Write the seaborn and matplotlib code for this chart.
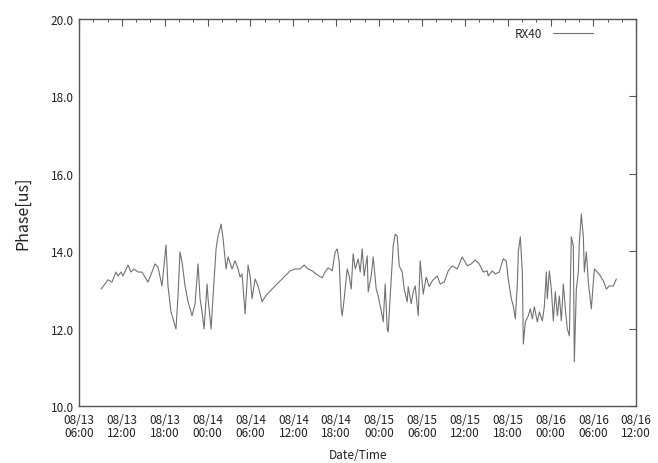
import numpy as np
import pandas as pd
import matplotlib
matplotlib.use("Agg")
import matplotlib.pyplot as plt
import matplotlib.dates as mdates
import seaborn as sns

sns.set_theme(style="white")
plt.rcParams['font.family'] = ['Noto Sans CJK JP', 'DejaVu Sans']

# hours after 08/13 06:00, phase in microseconds
start_time = "2013-08-13 06:00"
hours = [
    3.08, 3.64, 4.06, 4.62, 5.18, 5.46, 5.88, 6.16, 6.86, 7.28,
    7.70, 8.26, 8.82, 9.24, 9.66, 10.22, 10.64, 11.06, 11.62, 11.90,
    12.18, 12.46, 12.88, 13.16, 13.58, 13.86, 14.14, 14.42, 14.85, 15.27,
    15.55, 15.83, 16.25, 16.67, 16.95, 17.23, 17.51, 17.93, 18.07, 18.49,
    18.77, 19.19, 19.47, 19.89, 20.17, 20.59, 20.87, 21.43, 21.85, 22.27,
    22.55, 22.83, 23.25, 23.67, 23.95, 24.23, 24.65, 25.07, 25.63, 26.05,
    26.75, 27.45, 28.15, 28.85, 29.55, 30.25, 30.95, 31.51, 32.07, 32.63,
    33.33, 34.03, 34.45, 34.87, 35.44, 35.86, 36.14, 36.42, 36.70, 36.84,
    37.12, 37.54, 37.82, 38.10, 38.38, 38.66, 39.08, 39.36, 39.64, 39.92,
    40.34, 40.48, 40.90, 41.18, 41.60, 41.88, 42.16, 42.44, 42.58, 42.86,
    43.14, 43.28, 43.56, 43.84, 43.98, 44.26, 44.54, 44.82, 45.24, 45.52,
    45.94, 46.08, 46.50, 46.78, 47.06, 47.48, 47.76, 48.18, 48.60, 49.02,
    49.44, 50.14, 50.56, 51.12, 51.68, 52.24, 52.94, 53.64, 54.34, 54.90,
    55.46, 56.02, 56.58, 57.14, 57.28, 57.84, 58.26, 58.82, 59.38, 59.80,
    60.08, 60.51, 60.79, 61.07, 61.35, 61.49, 61.77, 62.05, 62.19, 62.47,
    62.89, 63.17, 63.45, 63.73, 64.15, 64.43, 64.85, 65.13, 65.41, 65.55,
    65.83, 66.11, 66.39, 66.67, 66.95, 67.23, 67.51, 67.79, 68.07, 68.35,
    68.63, 68.91, 69.19, 69.33, 69.61, 69.89, 70.03, 70.31, 70.59, 70.73,
    71.01, 71.29, 71.71, 72.13, 72.55, 72.97, 73.39, 73.81, 74.23, 74.79,
    75.21,
]
phase = [
    13.02, 13.15, 13.26, 13.20, 13.46, 13.36, 13.46, 13.36, 13.64, 13.46,
    13.54, 13.46, 13.46, 13.33, 13.20, 13.46, 13.67, 13.59, 13.10, 13.62,
    14.16, 13.10, 12.43, 12.25, 11.99, 12.84, 13.98, 13.72, 13.10, 12.69,
    12.51, 12.33, 12.64, 13.67, 12.77, 12.43, 11.99, 13.15, 12.77, 11.99,
    12.84, 14.06, 14.39, 14.70, 14.32, 13.54, 13.85, 13.54, 13.75, 13.54,
    13.33, 13.41, 12.38, 13.64, 13.36, 12.77, 13.28, 13.10, 12.69, 12.82,
    12.97, 13.10, 13.23, 13.36, 13.49, 13.54, 13.54, 13.64, 13.54, 13.49,
    13.39, 13.31, 13.46, 13.57, 13.49, 13.98, 14.06, 13.72, 12.51, 12.33,
    12.77, 13.54, 13.36, 13.02, 13.93, 13.54, 13.80, 13.46, 14.06, 13.36,
    13.88, 12.95, 13.36, 13.85, 13.02, 12.84, 12.58, 12.33, 12.17, 13.15,
    11.99, 11.91, 12.84, 13.67, 14.13, 14.44, 14.39, 13.62, 13.46, 13.02,
    12.69, 13.08, 12.64, 12.95, 13.10, 12.33, 13.75, 12.89, 13.33, 13.08,
    13.23, 13.36, 13.15, 13.20, 13.49, 13.62, 13.54, 13.85, 13.62, 13.67,
    13.77, 13.67, 13.46, 13.49, 13.36, 13.49, 13.41, 13.46, 13.80, 13.75,
    13.28, 12.77, 12.58, 12.25, 13.15, 13.98, 14.37, 13.46, 11.60, 12.17,
    12.33, 12.51, 12.25, 12.56, 12.17, 12.43, 12.20, 12.56, 13.46, 12.77,
    13.49, 13.02, 12.20, 12.95, 12.33, 12.84, 12.20, 13.15, 12.51, 11.99,
    11.81, 14.37, 14.13, 11.14, 13.02, 13.46, 14.24, 14.96, 14.37, 13.46,
    13.98, 13.20, 12.51, 13.54, 13.46, 13.36, 13.23, 13.02, 13.10, 13.10,
    13.28,
]

t0 = pd.Timestamp(start_time)
df = pd.DataFrame({
    "time": t0 + pd.to_timedelta(hours, unit="h"),
    "phase": phase,
})

fig = plt.figure(figsize=(6.58, 4.64), dpi=100)
ax = fig.add_axes([0.120, 0.123, 0.847, 0.834])

sns.lineplot(data=df, x="time", y="phase", ax=ax, color="#727272",
             lw=0.8, estimator=None, sort=False, label="RX40")

ax.set_xlim(t0, t0 + pd.Timedelta(hours=78))
ax.set_ylim(10, 20)
ax.set_yticks(np.arange(10, 20.1, 2))
ax.yaxis.set_major_formatter(plt.FormatStrFormatter("%.1f"))

ax.xaxis.set_major_locator(mdates.HourLocator(byhour=[0, 6, 12, 18]))
ax.xaxis.set_minor_locator(mdates.HourLocator(byhour=range(0, 24, 2)))
ax.xaxis.set_major_formatter(mdates.DateFormatter("%m/%d\n%H:%M"))

ax.tick_params(which="major", direction="in", top=True, right=True,
               length=5, width=0.8, color="#555555", labelsize=8.5,
               labelcolor="#222222")
ax.tick_params(axis="x", which="major", pad=5)
ax.tick_params(which="minor", direction="in", top=True, right=False,
               length=2.5, width=0.7, color="#555555")
for lab in ax.get_xticklabels():
    lab.set_linespacing(1.05)

for sp in ax.spines.values():
    sp.set_color("#555555")
    sp.set_linewidth(1.0)

ax.set_xlabel("Date/Time", fontsize=8.5, color="#222222", labelpad=6)
ax.set_ylabel("Phase[us]", fontsize=11.5, color="#222222", labelpad=14)

ax.legend(loc="upper right", bbox_to_anchor=(0.937, 1.0), frameon=False,
          markerfirst=False, fontsize=8.5, handlelength=3.4,
          handletextpad=0.9, borderaxespad=0.3)

fig.savefig("out.png", dpi=100)
